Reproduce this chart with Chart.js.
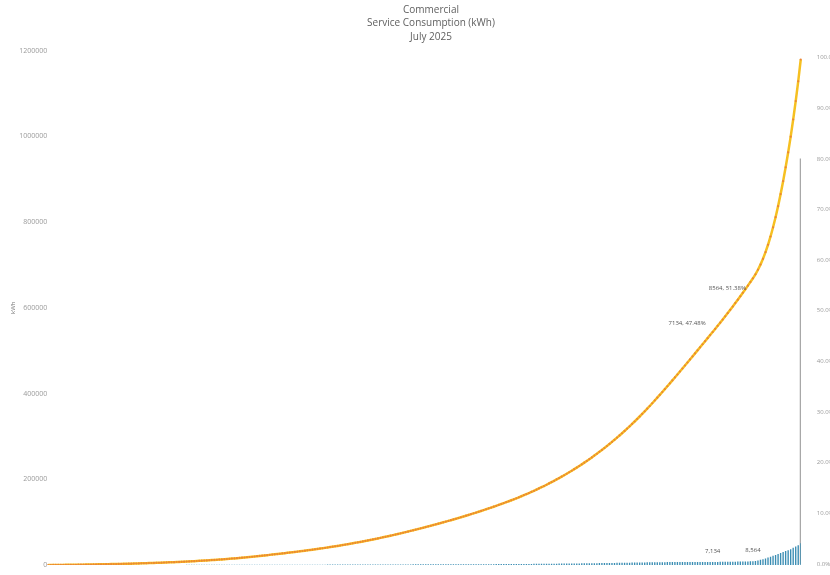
<!DOCTYPE html>
<html>
<head>
<meta charset="utf-8">
<script src="https://cdn.jsdelivr.net/npm/chart.js@4.4.1/dist/chart.umd.min.js"></script>
<style>
    html, body { margin: 0; padding: 0; background: #fff; overflow: hidden; }
    #wrap { position: absolute; left: 0; top: 0; width: 853px; height: 575px; }
</style>
</head>
<body>
<div id="wrap"><canvas id="paretoChart" width="853" height="575"></canvas></div>
<script>
// kWh per commercial customer, sorted ascending (300 accounts)
const usage = [
    20, 26, 32, 38, 44, 49, 54, 59, 64, 68, 72, 76, 80, 84, 88, 92, 96, 100, 104, 107, 110,
    113, 116, 119, 122, 125, 128, 131, 134, 138, 142, 146, 150, 155, 160, 165, 170, 176, 182, 188, 194,
    200, 206, 212, 218, 224, 230, 236, 242, 249, 256, 263, 270, 277, 284, 292, 300, 308, 316, 325, 334,
    343, 352, 362, 372, 382, 393, 404, 415, 427, 439, 451, 464, 477, 490, 504, 518, 532, 547, 562, 578,
    594, 601, 608, 615, 622, 629, 636, 643, 650, 657, 664, 671, 678, 686, 694, 702, 710, 718, 727, 736,
    745, 758, 771, 784, 798, 812, 826, 840, 855, 870, 885, 900, 916, 932, 948, 965, 982, 999, 1017, 1035,
    1053, 1068, 1083, 1099, 1115, 1131, 1148, 1165, 1182, 1199, 1217, 1235, 1253, 1272, 1291, 1310, 1330, 1350, 1370, 1390,
    1408, 1420, 1432, 1445, 1458, 1471, 1484, 1497, 1511, 1525, 1539, 1553, 1567, 1582, 1597, 1612, 1628, 1644, 1660, 1676,
    1692, 1710, 1728, 1747, 1766, 1785, 1805, 1825, 1846, 1867, 1888, 1910, 1933, 1956, 1979, 2003, 2027, 2052, 2077, 2103,
    2130, 2165, 2200, 2240, 2280, 2320, 2365, 2410, 2455, 2500, 2550, 2600, 2650, 2705, 2760, 2815, 2870, 2930, 2990, 3050,
    3110, 3170, 3230, 3295, 3360, 3425, 3490, 3560, 3630, 3700, 3770, 3845, 3920, 3995, 4070, 4150, 4230, 4310, 4395, 4480,
    4565, 4650, 4740, 4830, 4920, 5010, 5100, 5190, 5285, 5380, 5475, 5570, 5670, 5770, 5870, 5970, 6070, 6175, 6280, 6385,
    6490, 6540, 6590, 6640, 6690, 6740, 6790, 6830, 6870, 6910, 6950, 6980, 7010, 7040, 7060, 7080, 7095, 7105, 7115, 7122,
    7126, 7129, 7131, 7134, 7180, 7240, 7310, 7390, 7470, 7560, 7650, 7740, 7840, 7940, 8050, 8160, 8270, 8380, 8470, 8564,
    9400, 10600, 12000, 13600, 15400, 17300, 19300, 21400, 23600, 25800, 28000, 30200, 32400, 34600, 36800, 40000, 43000, 46000, 51000
];
const customers = usage.map((v, i) => 'C' + String(i + 1).padStart(3, '0'));

const titleLines = ['Commercial', 'Service Consumption (kWh)', 'July 2025'];
const kwhTicks = [0, 200000, 400000, 600000, 800000, 1000000, 1200000];
const pctTicks = [0, 10, 20, 30, 40, 50, 60, 70, 80, 90, 100];

// labelled customers
const noteIdx = [264, 280];
const barNotes = ['7,134', '8,564'];
const lineNotes = ['7134, 47.48%', '8564, 51.38%'];

// 80% cut-off marker on the last account
const cutoffPct = 80;

// running total for the pareto line
const cumulative = [];
usage.reduce((sum, v) => { cumulative.push(sum + v); return sum + v; }, 0);
const cutoff = usage.map((v, i) => i === usage.length - 1 ? cutoffPct : null);

// where the line labels sit next to their point (dx, dy)
const lineNoteOffsets = [[-7, -9], [-7, 10]];

const notesPlugin = {
    id: 'notes',
    afterDatasetsDraw(chart) {
        const ctx = chart.ctx;
        const bars = chart.getDatasetMeta(2).data;
        const pts = chart.getDatasetMeta(0).data;
        ctx.save();
        ctx.font = '6px "Open Sans"';
        ctx.fillStyle = '#555';
        noteIdx.forEach((idx, k) => {
            ctx.textAlign = 'center';
            ctx.textBaseline = 'bottom';
            ctx.fillText(barNotes[k], bars[idx].x, bars[idx].y - 8);
            ctx.textAlign = 'right';
            ctx.textBaseline = 'middle';
            const off = lineNoteOffsets[k];
            ctx.fillText(lineNotes[k], pts[idx].x + off[0], pts[idx].y + off[1]);
        });
        ctx.restore();
    }
};

const ctx = document.getElementById('paretoChart').getContext('2d');

new Chart(ctx, {
    type: 'bar',
    data: {
        labels: customers,
        datasets: [{
            type: 'line',
            label: 'Cumulative kWh',
            data: cumulative,
            yAxisID: 'y',
            borderColor: '#F6C021',
            borderWidth: 2.5,
            pointRadius: 1.1,
            pointBackgroundColor: '#EC8534',
            pointBorderWidth: 0,
            tension: 0,
            order: 0
        }, {
            label: 'Cut-off',
            data: cutoff,
            yAxisID: 'y1',
            backgroundColor: '#8a8a8a',
            barThickness: 1.2,
            grouped: false,
            order: 2
        }, {
            label: 'kWh',
            data: usage,
            yAxisID: 'y',
            backgroundColor: '#3a8db3',
            categoryPercentage: 0.9,
            barPercentage: 0.6,
            grouped: false,
            order: 1
        }]
    },
    options: {
        responsive: false,
        animation: false,
        layout: { padding: { top: 3, bottom: 10, left: 9, right: 0 } },
        plugins: {
            legend: { display: false },
            tooltip: { enabled: false },
            title: {
                display: true,
                text: titleLines,
                color: '#606060',
                font: { family: 'Open Sans', size: 10, weight: 'normal', lineHeight: 1.35 },
                padding: { top: 0, bottom: 7 }
            }
        },
        scales: {
            x: {
                display: false,
                offset: false
            },
            y: {
                position: 'left',
                min: 0,
                max: 1200000,
                afterBuildTicks: (axis) => { axis.ticks = kwhTicks.map(v => ({ value: v })); },
                ticks: {
                    color: '#9a9a9a',
                    font: { family: 'Open Sans', size: 7 },
                    padding: 1,
                    callback: (v) => String(v)
                },
                title: {
                    display: true,
                    text: 'kWh',
                    color: '#777',
                    font: { family: 'Open Sans', size: 6 },
                    padding: 1
                },
                grid: { display: false, drawTicks: false },
                border: { display: false }
            },
            y1: {
                position: 'right',
                min: -0.2,
                max: 101.4,
                afterBuildTicks: (axis) => { axis.ticks = pctTicks.map(v => ({ value: v })); },
                afterFit: (axis) => { axis.paddingTop = 4; axis.paddingBottom = 4; },
                ticks: {
                    color: '#9a9a9a',
                    font: { family: 'Open Sans', size: 6 },
                    padding: 16,
                    callback: (v) => v.toFixed(1) + '%'
                },
                grid: { display: false, drawTicks: false },
                border: { display: false }
            }
        }
    },
    plugins: [notesPlugin]
});
</script>
</body>
</html>
